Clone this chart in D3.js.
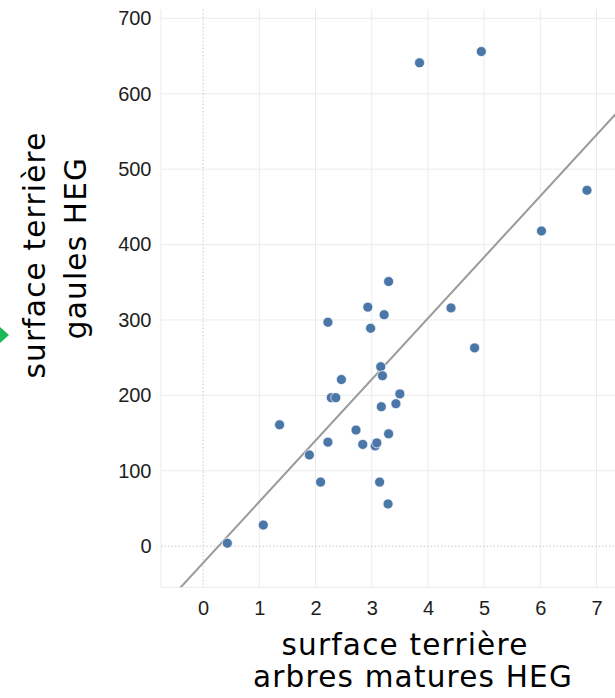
<!DOCTYPE html>
<html>
<head>
<meta charset="utf-8">
<script src="https://cdn.jsdelivr.net/npm/d3@7"></script>
<style>
  html, body { margin: 0; padding: 0; background: #fff; }
  svg { display: block; }
</style>
</head>
<body>
<svg id="chart" width="615" height="698"></svg>
<script>
// Basal area of mature trees (x) vs. basal area of saplings (y), HEG plots
const matureBasalArea = [0.43, 1.07, 1.36, 1.89, 2.09, 2.22, 2.22, 2.28, 2.36, 2.46,
  2.72, 2.84, 2.93, 2.98, 3.06, 3.09, 3.14, 3.16, 3.19, 3.17, 3.22, 3.30, 3.30, 3.29,
  3.43, 3.50, 3.85, 4.41, 4.83, 4.95, 6.02, 6.83];
const saplingBasalArea = [4, 28, 161, 121, 85, 138, 297, 197, 197, 221,
  154, 135, 317, 289, 133, 137, 85, 238, 226, 185, 307, 351, 149, 56,
  189, 202, 641, 316, 263, 656, 418, 472];

const xTicks = [0, 1, 2, 3, 4, 5, 6, 7];
const yTicks = [0, 100, 200, 300, 400, 500, 600, 700];
const xTitleLines = ["surface terrière", "arbres matures HEG"];
const yTitleLines = ["surface terrière", "gaules HEG"];

const svg = d3.select("#chart");

const x = d3.scaleLinear().domain([-0.75, 7.5]).range([161, 161 + 8.25 * 56.2]);
const y = d3.scaleLinear().domain([-54.5, 712]).range([587.3, 9.3]);
const [x0, x1] = x.range();
const [yb, yt] = y.range();

svg.append("defs").append("clipPath").attr("id", "plot-clip")
  .append("rect").attr("x", x0).attr("y", yt).attr("width", x1 - x0).attr("height", yb - yt);

// grid
const grid = svg.append("g");
grid.selectAll("line.vx").data(xTicks.filter(d => d !== 0)).join("line")
  .attr("x1", d => x(d)).attr("x2", d => x(d)).attr("y1", yt).attr("y2", yb)
  .attr("stroke", "#ebebeb").attr("stroke-width", 1);
grid.selectAll("line.hy").data(yTicks.filter(d => d !== 0)).join("line")
  .attr("y1", d => y(d)).attr("y2", d => y(d)).attr("x1", x0).attr("x2", x1)
  .attr("stroke", "#ebebeb").attr("stroke-width", 1);
// plot frame (left and bottom)
grid.append("line").attr("x1", x0).attr("x2", x0).attr("y1", yt).attr("y2", yb)
  .attr("stroke", "#ebebeb");
grid.append("line").attr("x1", x0).attr("x2", x1).attr("y1", yb).attr("y2", yb)
  .attr("stroke", "#ebebeb");
// zero lines, dotted
grid.append("line").attr("x1", x(0)).attr("x2", x(0)).attr("y1", yt).attr("y2", yb)
  .attr("stroke", "#c8c8c8").attr("stroke-dasharray", "1.5,2");
grid.append("line").attr("x1", x0).attr("x2", x1).attr("y1", y(0)).attr("y2", y(0))
  .attr("stroke", "#c8c8c8").attr("stroke-dasharray", "1.5,2");

// axes (labels only)
const yAxis = svg.append("g").attr("transform", `translate(${x0},0)`)
  .call(d3.axisLeft(y).tickValues(yTicks).tickSize(0).tickPadding(9.5));
const xAxis = svg.append("g").attr("transform", `translate(0,${yb})`)
  .call(d3.axisBottom(x).tickValues(xTicks).tickSize(0).tickPadding(13.5));
[yAxis, xAxis].forEach(a => {
  a.select(".domain").remove();
  a.selectAll("text").attr("font-family", "'Liberation Sans', Arial, sans-serif")
    .attr("font-size", 20).attr("fill", "#1e1e1e");
});

// least-squares fit line
const mx = d3.mean(matureBasalArea), my = d3.mean(saplingBasalArea);
let sxy = 0, sxx = 0;
matureBasalArea.forEach((v, i) => {
  sxy += (v - mx) * (saplingBasalArea[i] - my);
  sxx += (v - mx) * (v - mx);
});
const slope = sxy / sxx, intercept = my - slope * mx;
const [dx0, dx1] = x.domain();
svg.append("g").attr("clip-path", "url(#plot-clip)")
  .append("line")
  .attr("x1", x(dx0)).attr("y1", y(intercept + slope * dx0))
  .attr("x2", x(dx1)).attr("y2", y(intercept + slope * dx1))
  .attr("stroke", "#9a9a9a").attr("stroke-width", 2);

// points
svg.append("g").selectAll("circle").data(matureBasalArea).join("circle")
  .attr("cx", d => x(d))
  .attr("cy", (d, i) => y(saplingBasalArea[i]))
  .attr("r", 5)
  .attr("fill", "#4a76a8")
  .attr("stroke", "#ffffff").attr("stroke-opacity", 0.7).attr("stroke-width", 1);

// axis titles
const titleFont = "'DejaVu Sans', Verdana, sans-serif";
const xTitlePos = [[405, 655], [413, 687]];
svg.append("g").selectAll("text").data(xTitleLines).join("text")
  .attr("x", (d, i) => xTitlePos[i][0]).attr("y", (d, i) => xTitlePos[i][1])
  .attr("text-anchor", "middle")
  .attr("font-family", titleFont).attr("font-size", 29.5)
  .attr("letter-spacing", 1.2).attr("fill", "#000")
  .text(d => d);
const yTitlePos = [[45, 255], [86, 248]];
svg.append("g").selectAll("text").data(yTitleLines).join("text")
  .attr("transform", (d, i) => `translate(${yTitlePos[i][0]},${yTitlePos[i][1]}) rotate(-90)`)
  .attr("text-anchor", "middle")
  .attr("font-family", titleFont).attr("font-size", 29.5)
  .attr("letter-spacing", 1.2).attr("fill", "#000")
  .text(d => d);

// green pointer at the left edge
svg.append("path")
  .attr("d", d3.line()([[0, 327], [9, 335], [0, 343]]) + "Z")
  .attr("fill", "#1db954");
</script>
</body>
</html>
